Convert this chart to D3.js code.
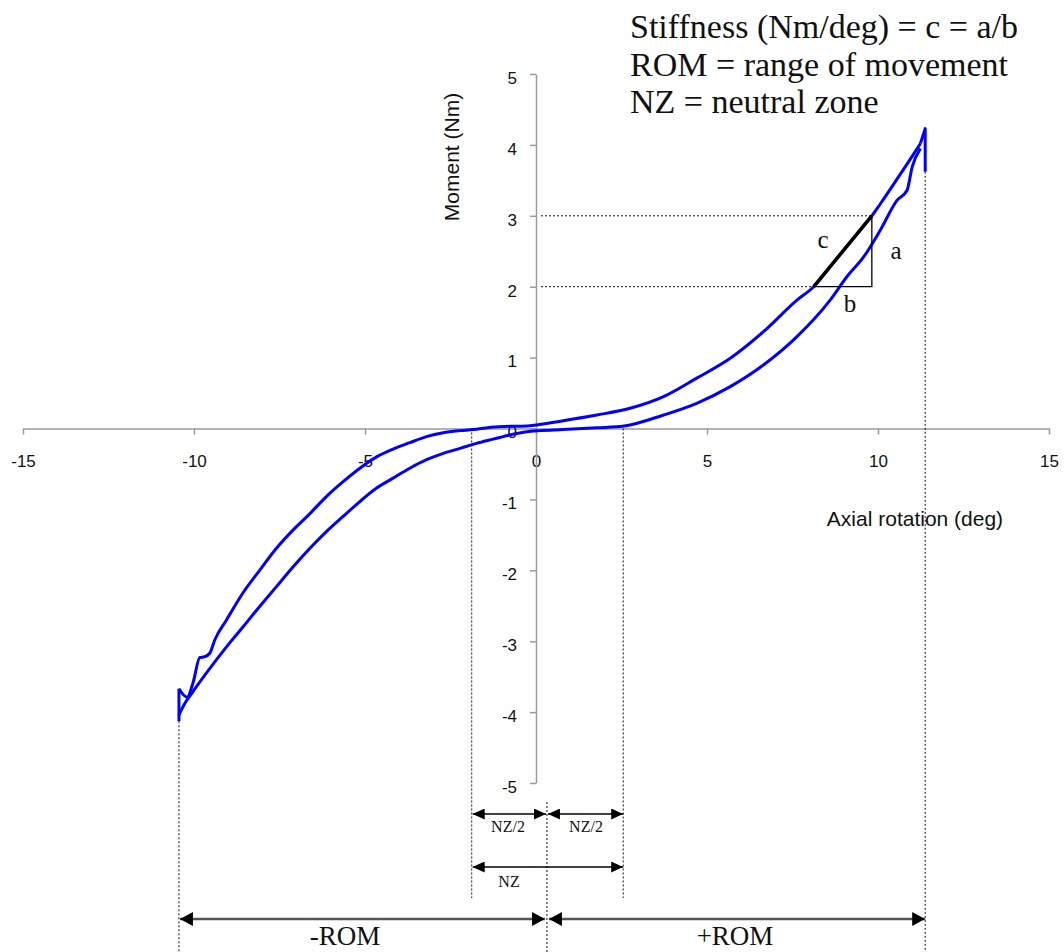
<!DOCTYPE html>
<html lang='en'>
<head>
  <meta charset='UTF-8'>
  <title>Moment vs Axial rotation</title>
  <style>
  body {
    margin: 0;
    background: #fff;
  }
  .tick text {
    font-family: 'Liberation Sans', Arial, sans-serif;
    font-size: 17px;
    fill: #111;
  }
  .axis path, .axis line {
    stroke: #9a9a9a;
    stroke-width: 1.5;
  }
  .title {
    font-family: 'Liberation Sans', Arial, sans-serif;
    font-size: 21px;
    fill: #111;
  }
  .note {
    font-family: 'Liberation Serif', 'Times New Roman', serif;
    fill: #111;
  }
  .dotted {
    stroke: #111;
    stroke-width: 1;
    stroke-dasharray: 2, 2;
    fill: none;
  }
  .curve {
    fill: none;
    stroke: #0000ff;
    stroke-width: 3;
    stroke-linejoin: round;
  }
  </style>
  <script src='https://d3js.org/d3.v7.min.js'></script>
</head>
<body>
  <script>

  // tick values
  var xTicks = [-15, -10, -5, 0, 5, 10, 15];
  var yTicks = [-5, -4, -3, -2, -1, 0, 1, 2, 3, 4, 5];

  // loop curves: [rotation (deg), moment (Nm)]
  var upperCurve = [
    [-10.44, -3.67], [-10.2, -3.79], [-10.03, -3.59], [-9.83, -3.23], [-9.69, -3.22],
    [-9.54, -3.17], [-9.39, -2.98], [-9.05, -2.70], [-8.57, -2.32], [-8.08, -2.00],
    [-7.59, -1.69], [-7.10, -1.43], [-6.61, -1.20], [-6.13, -0.96], [-5.64, -0.75],
    [-5.15, -0.56], [-4.66, -0.40], [-4.18, -0.29], [-3.69, -0.20], [-3.20, -0.115],
    [-2.71, -0.06], [-2.22, -0.03], [-1.74, -0.01], [-1.25, 0.02], [-0.76, 0.03],
    [-0.18, 0.04], [0.80, 0.11], [1.78, 0.19], [2.75, 0.285], [3.73, 0.45],
    [4.70, 0.71], [5.68, 0.99], [6.65, 1.365], [7.63, 1.81], [8.12, 2.00],
    [8.60, 2.28], [9.09, 2.57], [9.58, 2.86], [9.82, 3.00], [10.07, 3.17],
    [10.56, 3.52], [11.04, 3.87], [11.24, 4.02]
  ];

  var lowerCurve = [
    [-10.44, -4.04], [-10.27, -3.88], [-10.03, -3.71], [-9.64, -3.45], [-9.05, -3.08],
    [-8.57, -2.80], [-8.08, -2.51], [-7.59, -2.23], [-7.10, -1.95], [-6.61, -1.69],
    [-6.13, -1.455], [-5.64, -1.24], [-5.15, -1.03], [-4.66, -0.84], [-4.18, -0.70],
    [-3.69, -0.56], [-3.20, -0.44], [-2.71, -0.35], [-2.22, -0.28], [-1.74, -0.21],
    [-1.25, -0.15], [-0.76, -0.09], [-0.27, -0.045], [0.12, -0.03], [0.80, -0.015],
    [1.78, 0.01], [2.58, 0.035], [3.73, 0.19], [4.70, 0.355], [5.68, 0.59],
    [6.65, 0.895], [7.63, 1.295], [8.60, 1.81], [9.09, 2.14], [9.58, 2.42],
    [10.07, 2.80], [10.56, 3.22], [10.85, 3.36], [11.0, 3.69], [11.24, 3.95]
  ];

  // spikes at the turning points
  var leftSpike = [[-10.44, -3.67], [-10.44, -4.13]];
  var rightSpike = [[11.24, 4.02], [11.38, 4.23], [11.38, 3.62]];

  // annotation values
  var romBounds = [-10.44, 11.38];
  var nzBounds = [-1.88, 2.55];
  var midMark = 0.32;
  var stiffX = [8.12, 9.82];
  var stiffY = [2, 3];
  var legendLines = ['Stiffness (Nm/deg) = c = a/b', 'ROM = range of movement', 'NZ = neutral zone'];

  var svgWidth = 1064;
  var svgHeight = 952;

  var svg = d3.select('body').append('svg')
    .attr('width', svgWidth)
    .attr('height', svgHeight);

  var x = d3.scaleLinear().domain([-15, 15]).range([23, 1049]);
  var y = d3.scaleLinear().domain([-5, 5]).range([783, 74]);

  // arrow heads

  var defs = svg.append('defs');
  function arrowMarker(id, len, half, orient) {
    defs.append('marker')
      .attr('id', id)
      .attr('markerUnits', 'userSpaceOnUse')
      .attr('viewBox', '0 ' + (-half) + ' ' + len + ' ' + (2 * half))
      .attr('refX', len)
      .attr('refY', 0)
      .attr('markerWidth', len)
      .attr('markerHeight', 2 * half)
      .attr('orient', orient)
      .append('path')
      .attr('d', 'M0,' + (-half) + 'L' + len + ',0L0,' + half + 'Z')
      .attr('fill', '#000');
  }
  arrowMarker('headS', 12, 5.5, 'auto-start-reverse');
  arrowMarker('headL', 13, 7, 'auto-start-reverse');

  // axes

  svg.append('g')
    .attr('class', 'axis')
    .attr('transform', 'translate(0,' + y(0) + ')')
    .call(d3.axisBottom(x).tickValues(xTicks).tickSize(6).tickSizeOuter(0).tickPadding(20));

  svg.append('g')
    .attr('class', 'axis')
    .attr('transform', 'translate(' + x(0) + ',0)')
    .call(d3.axisLeft(y).tickValues(yTicks).tickSize(6).tickSizeOuter(0).tickPadding(13))
    .selectAll('text')
    .attr('dy', '0.55em');

  svg.selectAll('.axis .tick text').text(function (d) { return String(d); });

  // axis titles

  svg.append('text')
    .attr('class', 'title')
    .attr('text-anchor', 'middle')
    .attr('transform', 'translate(452,157) rotate(-90)')
    .attr('dy', '0.35em')
    .text('Moment (Nm)');

  svg.append('text')
    .attr('class', 'title')
    .attr('text-anchor', 'middle')
    .attr('x', 915)
    .attr('y', 526)
    .text('Axial rotation (deg)');

  // dotted guide lines

  function dotted(x1, y1, x2, y2) {
    svg.append('line')
      .attr('class', 'dotted')
      .attr('x1', x1).attr('y1', y1)
      .attr('x2', x2).attr('y2', y2);
  }

  dotted(x(0) + 5, y(stiffY[1]), x(stiffX[1]), y(stiffY[1]));
  dotted(x(0) + 5, y(stiffY[0]), x(stiffX[0]), y(stiffY[0]));
  dotted(x(romBounds[0]), y(-4.13), x(romBounds[0]), svgHeight);
  dotted(x(romBounds[1]), y(3.62), x(romBounds[1]), svgHeight);
  dotted(x(nzBounds[0]), y(0), x(nzBounds[0]), 898);
  dotted(x(nzBounds[1]), y(0), x(nzBounds[1]), 898);
  dotted(x(midMark), 802, x(midMark), svgHeight);

  // hysteresis loop

  var line = d3.line()
    .x(function (d) { return x(d[0]); })
    .y(function (d) { return y(d[1]); })
    .curve(d3.curveMonotoneX);

  var straight = d3.line()
    .x(function (d) { return x(d[0]); })
    .y(function (d) { return y(d[1]); });

  [upperCurve, lowerCurve].forEach(function (c) {
    svg.append('path').attr('class', 'curve').attr('d', line(c));
  });
  [leftSpike, rightSpike].forEach(function (c) {
    svg.append('path').attr('class', 'curve').attr('d', straight(c));
  });

  // stiffness triangle

  svg.append('path')
    .attr('d', straight([[stiffX[0], stiffY[0]], [stiffX[1], stiffY[0]], [stiffX[1], stiffY[1]]]))
    .attr('fill', 'none')
    .attr('stroke', '#000')
    .attr('stroke-width', 1.3);

  svg.append('path')
    .attr('d', straight([[stiffX[0], stiffY[0]], [stiffX[1], stiffY[1]]]))
    .attr('stroke', '#000')
    .attr('stroke-width', 3.5);

  svg.append('text').attr('class', 'note').attr('font-size', 25)
    .attr('text-anchor', 'middle').attr('x', 823).attr('y', 248).text('c');
  svg.append('text').attr('class', 'note').attr('font-size', 25)
    .attr('text-anchor', 'middle').attr('x', 896).attr('y', 259).text('a');
  svg.append('text').attr('class', 'note').attr('font-size', 25)
    .attr('text-anchor', 'middle').attr('x', 850).attr('y', 312).text('b');

  // NZ and ROM arrows

  function arrow(x1, x2, yy, head, color, width) {
    svg.append('line')
      .attr('x1', x1).attr('y1', yy)
      .attr('x2', x2).attr('y2', yy)
      .attr('stroke', color)
      .attr('stroke-width', width)
      .attr('marker-start', 'url(#' + head + ')')
      .attr('marker-end', 'url(#' + head + ')');
  }

  arrow(x(nzBounds[0]) + 1, x(midMark) - 1, 814, 'headS', '#000', 1.5);
  arrow(x(midMark) + 1, x(nzBounds[1]), 814, 'headS', '#000', 1.5);
  arrow(x(nzBounds[0]) + 1, x(nzBounds[1]), 867, 'headS', '#000', 1.5);
  arrow(x(romBounds[0]) + 1, x(midMark) - 2, 919, 'headL', '#555', 2.5);
  arrow(x(midMark) + 2, x(romBounds[1]), 919, 'headL', '#555', 2.5);

  svg.append('text').attr('class', 'note').attr('font-size', 16)
    .attr('text-anchor', 'middle').attr('x', 508).attr('y', 832).text('NZ/2');
  svg.append('text').attr('class', 'note').attr('font-size', 16)
    .attr('text-anchor', 'middle').attr('x', 586).attr('y', 832).text('NZ/2');
  svg.append('text').attr('class', 'note').attr('font-size', 16)
    .attr('text-anchor', 'middle').attr('x', 509).attr('y', 887).text('NZ');

  svg.append('text').attr('class', 'note').attr('font-size', 27)
    .attr('text-anchor', 'middle').attr('x', 345).attr('y', 945).text('-ROM');
  svg.append('text').attr('class', 'note').attr('font-size', 27)
    .attr('text-anchor', 'middle').attr('x', 735).attr('y', 945).text('+ROM');

  // definitions block

  svg.selectAll('.legend')
    .data(legendLines)
    .enter()
    .append('text')
    .attr('class', 'note legend')
    .attr('font-size', 34)
    .attr('x', 630)
    .attr('y', function (d, i) { return 38 + i * 37.5; })
    .text(function (d) { return d; });
  </script>
</body>
</html>
